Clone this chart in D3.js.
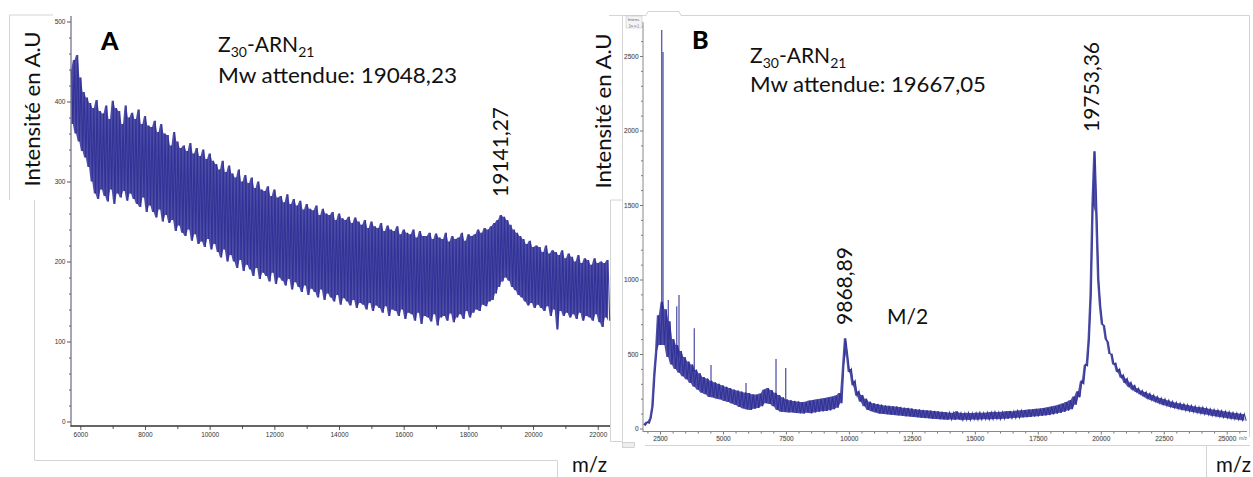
<!DOCTYPE html>
<html><head><meta charset="utf-8">
<script src="https://cdn.jsdelivr.net/npm/d3@7"></script>
<style>
html,body{margin:0;padding:0;background:#fff;}
svg{display:block;}
</style></head>
<body>
<svg id="c" width="1253" height="477"></svg>
<script>
// ---------- DATA ----------
// Panel A: m/z grid start & step, intensities (a.u.)
const mzStartA = 5720, mzStepA = 50;
const intensityA = [
440,372,452,360,458,350,430,338,412,330,
405,318,398,300,392,285,402,278,388,290,
385,282,395,275,378,290,401,272,392,285,
388,280,372,288,395,276,380,285,386,278,
378,272,390,268,372,280,382,262,370,270,
368,262,376,255,362,265,372,250,360,258,
358,248,345,252,362,238,350,245,342,236,
345,232,338,240,348,226,335,234,342,222,
332,225,340,218,328,228,335,215,326,222,
322,212,315,205,326,215,312,200,320,208,
310,200,305,192,315,202,300,188,308,196,
298,190,305,182,292,192,300,178,290,186,
288,182,294,175,282,186,290,172,280,180,
282,176,274,170,284,178,272,165,278,174,
270,168,276,162,265,170,272,158,266,166,
264,162,270,155,258,165,266,152,260,160,
258,155,262,150,252,158,260,146,254,154,
252,150,256,145,248,152,255,142,250,148,
246,146,252,140,242,148,250,138,244,145,
242,142,248,136,238,144,245,132,240,140,
238,138,244,132,234,140,240,128,236,136,
234,134,240,126,230,136,238,122,232,132,
232,130,236,125,228,134,235,120,230,130,
228,132,236,126,225,135,232,124,228,130,
230,134,236,128,226,138,234,130,232,136,
234,140,240,138,236,146,242,144,240,150,
244,152,248,160,252,168,258,175,256,180,
252,176,246,168,240,164,236,158,232,155,
228,150,222,145,226,148,218,142,220,146,
218,142,212,138,220,144,210,132,214,140,
212,115,208,138,214,132,204,136,210,130,
206,134,200,128,208,136,198,126,204,132,
202,130,196,126,204,134,198,124,200,118,
198,130,202,126
];
const yTicksA = [0,100,200,300,400,500];
const xTicksA = [6000,8000,10000,12000,14000,16000,18000,20000,22000];

// Panel B
const mzStartB = 1850, mzStepB = 75;
const intensityB = [
30,22,45,35,70,150,360,520,760,560,
850,560,800,480,720,430,600,400,560,375,
520,350,480,330,450,305,430,280,395,260,
370,240,345,230,335,212,320,208,310,200,
300,195,290,185,280,178,272,168,262,158,
255,145,248,135,242,128,238,125,230,132,
228,138,235,150,262,170,272,165,258,150,
240,125,225,112,210,110,195,108,190,108,
185,104,182,102,178,100,180,106,188,102,
192,108,196,112,200,115,205,118,210,122,
215,130,222,140,238,170,420,605,500,380,
400,290,320,220,250,180,225,150,200,125,
180,115,170,108,165,100,160,98,155,95,
152,92,150,90,148,88,145,85,140,82,
138,80,135,78,130,75,128,72,125,70,
122,68,120,65,118,64,115,62,112,60,
110,58,108,60,106,58,115,60,105,56,
104,58,106,57,104,60,105,58,108,60,
106,62,108,60,110,62,112,64,110,62,
112,65,115,66,118,68,116,70,120,72,
122,74,125,76,128,78,130,80,132,82,
135,85,138,88,142,90,148,95,152,100,
160,105,168,112,178,120,190,130,215,160,
250,210,320,300,430,420,600,900,1500,1860,
1450,1000,820,700,690,600,580,500,500,430,
440,380,400,340,360,305,335,280,310,260,
290,245,270,230,255,215,245,200,235,190,
225,180,215,170,205,160,198,152,190,145,
182,138,175,132,170,126,165,120,160,115,
155,110,150,105,145,100,142,96,138,92,
132,86,128,82,124,78,120,74,116,70,
112,66,108,62,104,58,100,55,98,52
];
const spikeMzB   = [2567,2620,2830,3163,3254,3862,4525,5915,7106,7491];
const spikeBaseB = [800, 800, 600, 500, 480, 380, 280, 200, 200, 180];
const spikeTopB  = [2675,2527,862, 820, 896, 673, 426, 305, 467, 406];
const yTicksB = [0,500,1000,1500,2000,2500];
const xTicksB = [2500,5000,7500,10000,12500,15000,17500,20000,22500,25000];

// ---------- DRAW ----------
const svg = d3.select("#c");
const TRACE = "#2f2f96";
const FRAME = "#d4d4d4";
const FONT = "Lato, 'Open Sans', sans-serif";

// decorative frames (screenshot borders)
const frames = [
  [[53,15],[9.5,15],[9.5,200]],
  [[34.5,200],[34.5,460.5],[557.5,460.5],[557.5,477]],
  [[610.5,200],[610.5,441.5],[622.5,441.5],[622.5,200],[610.5,200]],
  [[609,15.5],[646,15.5]],
  [[622.5,15],[622.5,441]],
  [[646,15.5],[648,11.5],[679,11.5],[681,15.5],[1249.5,15.5],[1249.5,437]],
  [[645,445.5],[1250,445.5]],
  [[1206.5,445.5],[1206.5,477]]
];
svg.append("g").selectAll("path").data(frames).join("path")
  .attr("d", d => d3.line()(d)).attr("fill","none").attr("stroke",FRAME).attr("stroke-width",1);
svg.append("rect").attr("x",622.5).attr("y",442.5).attr("width",12).attr("height",5)
  .attr("fill","#eee").attr("stroke","#bbb").attr("stroke-width",0.6);

// envelope of consecutive samples (solid core of the noisy trace)
function envelope(data){
  return data.slice(0,-1).map((d,i)=>({mz:d.mz, lo:Math.min(d.v,data[i+1].v), hi:Math.max(d.v,data[i+1].v)}));
}
function drawTrace(data, x, y){
  const env = envelope(data);
  svg.append("path").datum(env)
    .attr("d", d3.area().x(d=>x(d.mz)).y0(d=>y(d.lo)).y1(d=>y(d.hi)))
    .attr("fill",TRACE).attr("fill-opacity",0.85).attr("stroke","none");
  svg.append("path").datum(data)
    .attr("d", d3.line().x(d=>x(d.mz)).y(d=>y(d.v)))
    .attr("fill","none").attr("stroke",TRACE).attr("stroke-width",1.1).attr("stroke-opacity",0.9);
}

// ---- Panel A ----
const xA = d3.scaleLinear().domain([5712, 22380]).range([71, 610]);
const yA = d3.scaleLinear().domain([0, 500]).range([421.5, 21.5]);
const dataA = intensityA.map((v,i)=>({mz: mzStartA + mzStepA*i, v}));
drawTrace(dataA, xA, yA);

// A axes
const gAy = svg.append("g").attr("transform","translate(71,0)")
  .call(d3.axisLeft(yA).tickValues(yTicksA).tickSize(4).tickPadding(1.5).tickFormat(d3.format("d")));
const gAyMinor = svg.append("g").attr("transform","translate(71,0)")
  .call(d3.axisLeft(yA).tickValues(d3.range(0,501,20).filter(v=>v%100)).tickSize(2).tickFormat(""));
const gAx = svg.append("g").attr("transform","translate(0,426)")
  .call(d3.axisBottom(xA).tickValues(xTicksA).tickSize(4).tickPadding(2).tickFormat(d3.format("d")));
const gAxMinor = svg.append("g").attr("transform","translate(0,426)")
  .call(d3.axisBottom(xA).tickValues(d3.range(7000,22001,2000)).tickSize(3).tickFormat(""));
[gAy,gAyMinor,gAx,gAxMinor].forEach(g=>{
  g.select(".domain").remove();
  g.selectAll("line").attr("stroke","#555");
  g.selectAll("text").attr("font-family","'Liberation Sans', Arial, sans-serif")
    .attr("font-size",6.5).attr("fill","#333");
});
svg.append("line").attr("x1",71).attr("x2",71).attr("y1",16).attr("y2",426.5)
  .attr("stroke","#6a6a80").attr("stroke-width",1.2);
svg.append("line").attr("x1",70.5).attr("x2",610).attr("y1",426).attr("y2",426)
  .attr("stroke","#333").attr("stroke-width",1.6);

// ---- Panel B ----
const xB = d3.scaleLinear().domain([1825, 25806]).range([643, 1247]);
const yB = d3.scaleLinear().domain([0, 2500]).range([428.5, 56]);
const dataB = intensityB.map((v,i)=>({mz: mzStartB + mzStepB*i, v}));

svg.append("g").selectAll("line").data(spikeMzB).join("line")
  .attr("x1",d=>xB(d)).attr("x2",d=>xB(d))
  .attr("y1",(d,i)=>yB(spikeBaseB[i])).attr("y2",(d,i)=>yB(spikeTopB[i]))
  .attr("stroke",TRACE).attr("stroke-width",1.4).attr("stroke-opacity",0.75);
drawTrace(dataB, xB, yB);

const gBy = svg.append("g").attr("transform","translate(643,0)")
  .call(d3.axisLeft(yB).tickValues(yTicksB).tickSize(3).tickPadding(1.5).tickFormat(d3.format("d")));
const gByMinor = svg.append("g").attr("transform","translate(643,0)")
  .call(d3.axisLeft(yB).tickValues(d3.range(0,2701,100).filter(v=>v%500)).tickSize(2).tickFormat(""));
const gBx = svg.append("g").attr("transform","translate(0,431.5)")
  .call(d3.axisBottom(xB).tickValues(xTicksB).tickSize(3).tickPadding(1.5).tickFormat(d3.format("d")));
const gBxMinor = svg.append("g").attr("transform","translate(0,431.5)")
  .call(d3.axisBottom(xB).tickValues(d3.range(2000,25501,500).filter(v=>v%2500)).tickSize(2).tickFormat(""));
[gBy,gByMinor,gBx,gBxMinor].forEach(g=>{
  g.select(".domain").remove();
  g.selectAll("line").attr("stroke","#777");
  g.selectAll("text").attr("font-family","'Liberation Sans', Arial, sans-serif")
    .attr("font-size",6.5).attr("fill","#555")
    .attr("stroke","#ccc").attr("stroke-width",0.4).attr("paint-order","stroke");
});
svg.append("line").attr("x1",643).attr("x2",643).attr("y1",22).attr("y2",432)
  .attr("stroke","#888").attr("stroke-width",1);
svg.append("line").attr("x1",643).attr("x2",1247).attr("y1",431.5).attr("y2",431.5)
  .attr("stroke","#888").attr("stroke-width",1);
// small axis captions of the instrument software
svg.append("rect").attr("x",626).attr("y",16).attr("width",16).attr("height",12)
  .attr("fill","#f4f4f4").attr("stroke","#bbb").attr("stroke-width",0.5);
svg.append("text").attr("x",634).attr("y",21).attr("text-anchor","middle")
  .attr("font-family","'Liberation Sans', Arial").attr("font-size",4.2).attr("fill","#666").text("Intens.");
svg.append("text").attr("x",634).attr("y",26.5).attr("text-anchor","middle")
  .attr("font-family","'Liberation Sans', Arial").attr("font-size",4.2).attr("fill","#666").text("[a.u.]");
svg.append("text").attr("x",1243).attr("y",439.5).attr("text-anchor","middle")
  .attr("font-family","'Liberation Sans', Arial").attr("font-size",5).attr("fill","#666").text("m/z");

// ---------- TEXT ----------
function rot(x, y, txt, len){
  svg.append("text").attr("transform",`translate(${x},${y}) rotate(-90)`)
    .attr("text-anchor","middle").attr("font-family",FONT).attr("font-size",21)
    .attr("fill","#111").attr("textLength",len).attr("lengthAdjust","spacingAndGlyphs").text(txt);
}
rot(40, 109, "Intensité en A.U", 155);
rot(611, 111, "Intensité en A.U", 155);
rot(508, 152, "19141,27", 90);
rot(852, 286, "9868,89", 78);
rot(1099, 87, "19753,36", 90);

function letter(x,y,t){
  svg.append("text").attr("x",x).attr("y",y).attr("font-family",FONT).attr("font-weight",900)
    .attr("font-size",25).attr("fill","#000").text(t);
}
letter(101, 50, "A");
letter(692, 49, "B");

function title(x, y1, y2, mw, w){
  const t = svg.append("text").attr("x",x).attr("y",y1).attr("font-family",FONT)
    .attr("font-size",21).attr("fill","#111");
  t.append("tspan").text("Z");
  t.append("tspan").attr("font-size",14).attr("dy",5).text("30");
  t.append("tspan").attr("dy",-5).text("-ARN");
  t.append("tspan").attr("font-size",14).attr("dy",5).text("21");
  svg.append("text").attr("x",x).attr("y",y2).attr("font-family",FONT)
    .attr("font-size",21).attr("fill","#111").attr("textLength",w)
    .attr("lengthAdjust","spacingAndGlyphs").text("Mw attendue: " + mw);
}
title(218, 52, 83, "19048,23", 239);
title(750, 63, 92, "19667,05", 236);

svg.append("text").attr("x",887).attr("y",324).attr("font-family",FONT)
  .attr("font-size",21).attr("fill","#111").text("M/2");
svg.append("text").attr("x",572).attr("y",472).attr("font-family",FONT)
  .attr("font-size",22).attr("fill","#111").attr("textLength",35).attr("lengthAdjust","spacingAndGlyphs").text("m/z");
svg.append("text").attr("x",1216).attr("y",472).attr("font-family",FONT)
  .attr("font-size",22).attr("fill","#111").attr("textLength",35).attr("lengthAdjust","spacingAndGlyphs").text("m/z");
</script>
</body></html>
